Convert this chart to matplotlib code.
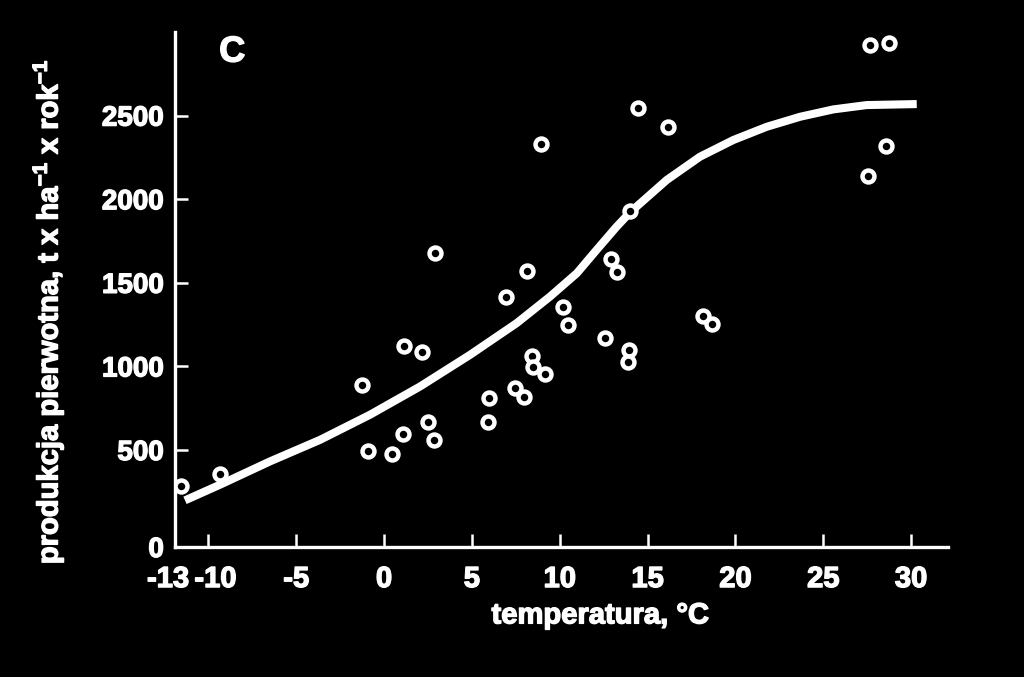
import matplotlib
matplotlib.use("Agg")
import matplotlib.pyplot as plt
import matplotlib.transforms as mtransforms
import matplotlib.patheffects as pe

# ---- data ----
temp = [-11.55, -9.33, -1.25, -0.91, 1.14, 1.08, 0.46, 2.16, 2.5, 2.85, 2.9,
        5.98, 5.92, 6.94, 7.46, 7.97, 8.14, 8.42, 8.48, 9.16, 8.94, 10.19,
        10.47, 12.58, 12.92, 13.26, 13.94, 13.89, 14.0, 14.46, 16.16, 18.16,
        18.67, 27.55, 28.57, 27.66, 28.74]
prod = [287, 358, 890, 496, 1123, 597, 478, 1087, 669, 562, 1679,
        812, 669, 1416, 872, 818, 1571, 1063, 998, 956, 2330, 1356,
        1249, 1171, 1643, 1565, 1099, 1027, 1930, 2545, 2431, 1302,
        1255, 2139, 2318, 2921, 2933]

curve_t = [-11.33, -9.33, -6.49, -3.64, -0.80, 2.05, 4.89, 7.55, 9.45, 10.97,
           12.1, 13.24, 14.04, 16.09, 17.98, 19.88, 21.78, 23.68, 25.57, 27.47, 30.32]
curve_v = [199, 293, 432, 561, 711, 880, 1069, 1259, 1418, 1557,
           1697, 1836, 1925, 2115, 2254, 2354, 2433, 2493, 2537, 2563, 2569]

xticks = [-11.9, -10, -5, 0, 5, 10, 15, 20, 25, 30]
xticklabels = ["-13", "-10", "-5", "0", "5", "10", "15", "20", "25", "30"]
yticks = [-80, 500, 1000, 1500, 2000, 2500]
yticklabels = ["0", "500", "1000", "1500", "2000", "2500"]

plt.rcParams['font.family'] = ['Liberation Sans', 'DejaVu Sans']
plt.rcParams['font.weight'] = 'bold'
plt.rcParams['mathtext.fontset'] = 'custom'
plt.rcParams['mathtext.rm'] = 'Liberation Sans:bold'
plt.rcParams['mathtext.default'] = 'rm'

heavy = [pe.withStroke(linewidth=1.0, foreground='white')]

fig = plt.figure(figsize=(10.24, 6.77), dpi=100, facecolor='black')
ax = fig.add_axes([175/1024, 1-547/677, (948-175)/1024, (547-32)/677])
ax.set_facecolor('black')

ax.plot(curve_t, curve_v, color='white', lw=5.8, solid_capstyle='butt',
        solid_joinstyle='round', zorder=2)
ax.plot(temp, prod, linestyle='none', marker='o', markersize=8.6,
        markerfacecolor='black', markeredgecolor='white', markeredgewidth=3.2, zorder=3)

ax.set_xlim(-11.9, 32.1)
ax.set_ylim(-80, 3000)

for s in ['top', 'right']:
    ax.spines[s].set_visible(False)
for s in ['left', 'bottom']:
    ax.spines[s].set_color('white')
    ax.spines[s].set_linewidth(2.4)

ax.set_xticks(xticks)
ax.set_xticklabels(xticklabels)
ax.set_yticks(yticks)
ax.set_yticklabels(yticklabels)
ax.tick_params(axis='both', direction='in', length=9.5, width=1.8, colors='white')
ax.tick_params(axis='x', labelsize=21, pad=13)
ax.tick_params(axis='y', labelsize=20, pad=8)
for lab in ax.get_xticklabels() + ax.get_yticklabels():
    lab.set_fontweight('bold')
    lab.set_path_effects(heavy)

# nudge the two crowded labels at the left end apart
xl = ax.get_xticklabels()
xl[0].set_transform(xl[0].get_transform() + mtransforms.ScaledTranslation(-7/100, 0, fig.dpi_scale_trans))
xl[1].set_transform(xl[1].get_transform() + mtransforms.ScaledTranslation(7/100, 0, fig.dpi_scale_trans))

ax.set_xlabel("temperatura, °C", color='white', fontsize=21, fontweight='bold', labelpad=6,
              path_effects=heavy)
ax.xaxis.label.set_x(0.55)
ax.set_ylabel("produkcja pierwotna, t x ha$^{-1}$ x rok$^{-1}$", color='white',
              fontsize=21, fontweight='bold', labelpad=26, path_effects=heavy)
ax.yaxis.label.set_y(0.456)

ax.text(0.074, 0.961, "C", transform=ax.transAxes, color='white', fontsize=26,
        fontweight='bold', ha='center', va='center', path_effects=heavy)

fig.savefig("out.png", dpi=100, facecolor='black')
